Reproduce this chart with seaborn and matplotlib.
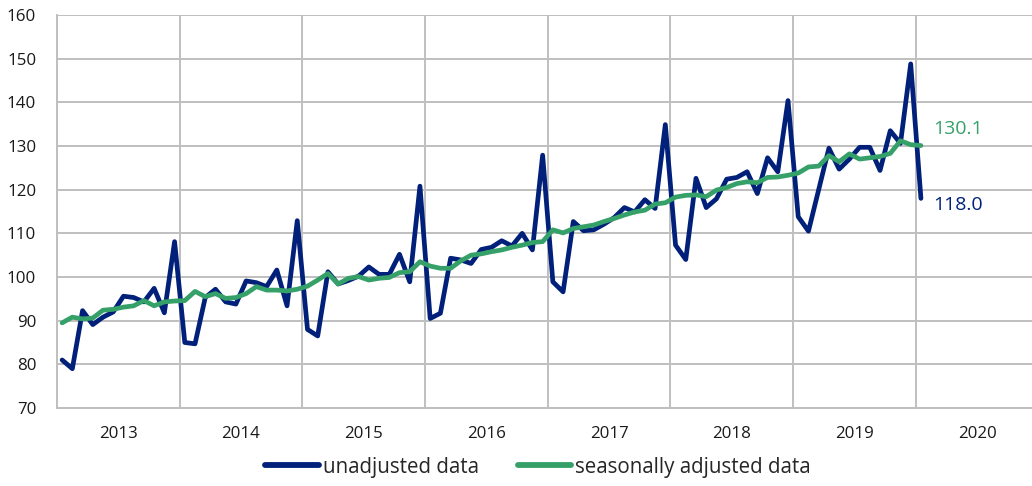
import numpy as np
import pandas as pd
import seaborn as sns
import matplotlib.pyplot as plt

# ---- data (monthly, Jan 2013 .. Jan 2020) ----
year_labels = ["2013", "2014", "2015", "2016", "2017", "2018", "2019", "2020"]

unadjusted = [
    81.0, 79.0, 92.3, 89.1, 90.8, 92.0, 95.6, 95.3, 94.3, 97.4, 91.8, 108.1,      # 2013
    85.0, 84.7, 95.3, 97.2, 94.3, 93.8, 99.1, 98.7, 97.8, 101.6, 93.4, 112.9,     # 2014
    88.0, 86.5, 101.2, 98.4, 99.2, 100.2, 102.3, 100.6, 100.6, 105.2, 98.9, 120.8,  # 2015
    90.5, 91.7, 104.3, 103.9, 103.1, 106.3, 106.8, 108.3, 107.1, 110.0, 106.2, 127.9,  # 2016
    98.9, 96.6, 112.7, 110.6, 110.8, 112.1, 113.6, 115.9, 114.9, 117.7, 115.7, 134.9,  # 2017
    107.3, 104.0, 122.6, 115.9, 117.9, 122.4, 122.8, 124.1, 119.1, 127.3, 124.1, 140.4,  # 2018
    113.8, 110.5, 120.0, 129.5, 124.7, 127.0, 129.7, 129.7, 124.4, 133.5, 130.6, 148.8,  # 2019
    118.0,                                                                           # 2020
]

seasonally_adjusted = [
    89.5, 90.8, 90.4, 90.6, 92.4, 92.6, 93.1, 93.4, 94.6, 93.4, 94.3, 94.5,
    94.6, 96.7, 95.5, 96.2, 95.1, 95.3, 96.2, 97.8, 97.0, 97.0, 96.8, 97.2,
    97.9, 99.3, 100.8, 98.4, 99.7, 100.1, 99.3, 99.7, 99.9, 101.0, 101.2, 103.5,
    102.5, 102.0, 102.0, 103.7, 105.0, 105.3, 105.8, 106.2, 106.8, 107.3, 107.9, 108.1,
    110.8, 110.1, 111.1, 111.5, 111.9, 112.7, 113.4, 114.2, 114.9, 115.3, 116.7, 117.0,
    118.3, 118.7, 118.8, 118.4, 119.9, 120.5, 121.4, 121.8, 121.6, 122.8, 122.9, 123.3,
    123.8, 125.2, 125.4, 127.8, 126.4, 128.2, 127.0, 127.3, 127.6, 128.3, 131.2, 130.3,
    130.1,
]

series_names = ["unadjusted data", "seasonally adjusted data"]
series_colors = ["#00207A", "#35A068"]

# ---- figure ----
sns.set_theme(style="white")
plt.rcParams["font.family"] = ["Open Sans", "DejaVu Sans"]

W, H = 1032, 486
fig = plt.figure(figsize=(W / 100, H / 100), dpi=100)
ax = fig.add_axes([57 / W, 1 - 408 / H, (1038.5 - 57) / W, (408 - 15) / H])

months = np.arange(len(unadjusted)) + 0.5
df = pd.DataFrame({
    "month": np.concatenate([months, months]),
    "value": unadjusted + seasonally_adjusted,
    "series": [series_names[0]] * len(unadjusted) + [series_names[1]] * len(seasonally_adjusted),
})

sns.lineplot(data=df, x="month", y="value", hue="series", hue_order=series_names,
             palette=series_colors, linewidth=3.4, ax=ax, legend=True)

grid_c = "#BFBFBF"
ax.set_xlim(0, 12 * len(year_labels))
ax.set_ylim(70, 160)
ax.set_yticks(np.arange(70, 161, 10))
ax.set_xticks(np.arange(0, 12 * len(year_labels) + 1, 12))
ax.set_xticklabels([])
ax.set_xticks(np.arange(6, 12 * len(year_labels), 12), minor=True)
ax.set_xticklabels(year_labels, minor=True)
ax.tick_params(axis="x", which="both", length=0, pad=13, labelsize=12.2, colors="#1a1a1a")
ax.tick_params(axis="y", length=0, pad=15, labelsize=12.2, colors="#1a1a1a")
ax.grid(True, which="major", color=grid_c, linewidth=1.4)
ax.set_axisbelow(True)
for s in ["top", "right"]:
    ax.spines[s].set_visible(False)
for s in ["left", "bottom"]:
    ax.spines[s].set_color(grid_c)
    ax.spines[s].set_linewidth(1.4)
ax.set_xlabel("")
ax.set_ylabel("")

# end labels
ax.annotate(f"{seasonally_adjusted[-1]:.1f}", xy=(months[-1], seasonally_adjusted[-1]),
            xytext=(9, 12), textcoords="offset points", color=series_colors[1],
            fontsize=14, va="center", ha="left")
ax.annotate(f"{unadjusted[-1]:.1f}", xy=(months[-1], unadjusted[-1]),
            xytext=(9, -4.5), textcoords="offset points", color=series_colors[0],
            fontsize=14, va="center", ha="left")

# legend
handles, labels = ax.get_legend_handles_labels()
for h in handles:
    h.set_linewidth(4.2)
    h.set_solid_capstyle("round")
ax.legend(handles, labels, loc="center", bbox_to_anchor=(538 / W, 1 - 467 / H),
          bbox_transform=fig.transFigure, ncol=2, frameon=False, fontsize=14.8,
          handlelength=2.6, handletextpad=0.2, columnspacing=1.9)

fig.savefig("out.png", dpi=100)
